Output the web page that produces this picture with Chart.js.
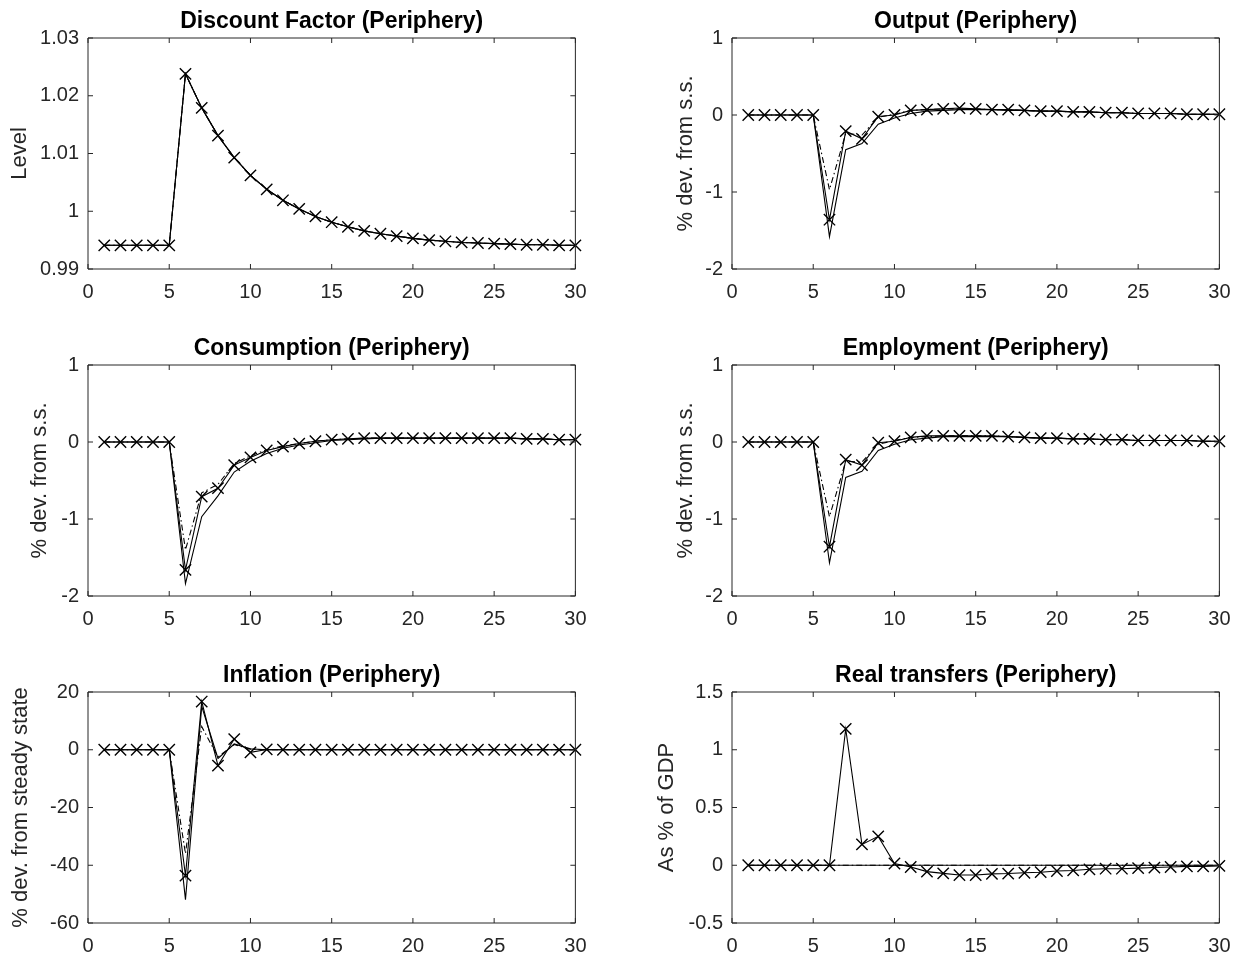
<!DOCTYPE html>
<html>
<head>
<meta charset="utf-8">
<title>Periphery impulse responses</title>
<script src="https://cdn.jsdelivr.net/npm/chart.js@4.4.1/dist/chart.umd.min.js"></script>
<style>
  body { margin: 0; background: #fff; }
  #figure { position: relative; width: 1246px; height: 960px; }
  #figure canvas { position: absolute; }
</style>
</head>
<body>
<div id="figure"></div>
<script>
// horizontal axis: quarters after the shock
const periods = [1, 2, 3, 4, 5, 6, 7, 8, 9, 10, 11, 12, 13, 14, 15, 16, 17, 18, 19, 20, 21, 22, 23, 24, 25, 26, 27, 28, 29, 30];
const xTicks = [0, 5, 10, 15, 20, 25, 30];

// Discount factor (all scenarios coincide)
const discountTicks = [0.99, 1, 1.01, 1.02, 1.03];
const discountPath = [0.9941, 0.9941, 0.9941, 0.9941, 0.9941, 1.0238, 1.0179, 1.0131, 1.0093, 1.0062, 1.0038, 1.0019, 1.0004, 0.9991, 0.9981, 0.9973, 0.9966, 0.9961, 0.9957, 0.9953, 0.9950, 0.9948, 0.9946, 0.9945, 0.9944, 0.9943, 0.9942, 0.9942, 0.9941, 0.9941];

// Output
const outputTicks = [-2, -1, 0, 1];
const outputMarked = [0, 0, 0, 0, 0, -1.36, -0.21, -0.31, -0.02, 0.00, 0.06, 0.07, 0.08, 0.09, 0.08, 0.07, 0.07, 0.06, 0.05, 0.05, 0.04, 0.04, 0.03, 0.03, 0.02, 0.02, 0.02, 0.01, 0.01, 0.01];
const outputSolid = [0, 0, 0, 0, 0, -1.58, -0.45, -0.37, -0.12, -0.04, 0.02, 0.05, 0.06, 0.07, 0.07, 0.07, 0.06, 0.06, 0.05, 0.05, 0.04, 0.04, 0.03, 0.03, 0.02, 0.02, 0.02, 0.01, 0.01, 0.01];
const outputDashDot = [0, 0, 0, 0, 0, -0.97, -0.24, -0.26, -0.03, 0.01, 0.06, 0.07, 0.08, 0.08, 0.08, 0.07, 0.07, 0.06, 0.05, 0.05, 0.04, 0.04, 0.03, 0.03, 0.02, 0.02, 0.02, 0.01, 0.01, 0.01];

// Consumption
const consTicks = [-2, -1, 0, 1];
const consMarked = [0, 0, 0, 0, 0, -1.66, -0.71, -0.60, -0.30, -0.20, -0.11, -0.06, -0.02, 0.01, 0.03, 0.04, 0.05, 0.05, 0.05, 0.05, 0.05, 0.05, 0.05, 0.05, 0.05, 0.05, 0.04, 0.04, 0.03, 0.03];
const consSolid = [0, 0, 0, 0, 0, -1.84, -0.97, -0.70, -0.39, -0.25, -0.15, -0.08, -0.04, -0.01, 0.02, 0.03, 0.04, 0.05, 0.05, 0.05, 0.05, 0.05, 0.05, 0.05, 0.05, 0.05, 0.04, 0.04, 0.03, 0.03];
const consDashDot = [0, 0, 0, 0, 0, -1.40, -0.66, -0.55, -0.28, -0.18, -0.10, -0.05, -0.02, 0.01, 0.03, 0.04, 0.05, 0.05, 0.05, 0.05, 0.05, 0.05, 0.05, 0.05, 0.05, 0.05, 0.04, 0.04, 0.03, 0.03];

// Employment
const emplTicks = [-2, -1, 0, 1];
const emplMarked = [0, 0, 0, 0, 0, -1.36, -0.23, -0.30, -0.01, 0.01, 0.06, 0.08, 0.08, 0.08, 0.08, 0.08, 0.07, 0.06, 0.05, 0.05, 0.04, 0.04, 0.03, 0.03, 0.02, 0.02, 0.02, 0.02, 0.01, 0.01];
const emplSolid = [0, 0, 0, 0, 0, -1.57, -0.46, -0.38, -0.11, -0.03, 0.03, 0.05, 0.07, 0.07, 0.07, 0.07, 0.07, 0.06, 0.05, 0.05, 0.04, 0.04, 0.03, 0.03, 0.02, 0.02, 0.02, 0.02, 0.01, 0.01];
const emplDashDot = [0, 0, 0, 0, 0, -0.97, -0.25, -0.26, -0.03, 0.02, 0.06, 0.07, 0.08, 0.08, 0.08, 0.08, 0.07, 0.06, 0.05, 0.05, 0.04, 0.04, 0.03, 0.03, 0.02, 0.02, 0.02, 0.02, 0.01, 0.01];

// Inflation
const inflTicks = [-60, -40, -20, 0, 20];
const inflMarked = [0, 0, 0, 0, 0, -43.6, 16.7, -5.5, 3.7, -0.9, 0.1, 0, 0, 0, 0, 0, 0, 0, 0, 0, 0, 0, 0, 0, 0, 0, 0, 0, 0, 0];
const inflSolid = [0, 0, 0, 0, 0, -51.9, 15.0, -3.0, 2.0, 0.3, 0, 0, 0, 0, 0, 0, 0, 0, 0, 0, 0, 0, 0, 0, 0, 0, 0, 0, 0, 0];
const inflDashDot = [0, 0, 0, 0, 0, -36.0, 8.0, -2.5, 1.8, 0.2, 0, 0, 0, 0, 0, 0, 0, 0, 0, 0, 0, 0, 0, 0, 0, 0, 0, 0, 0, 0];

// Real transfers
const transTicks = [-0.5, 0, 0.5, 1, 1.5];
const transMarked = [0, 0, 0, 0, 0, 0, 1.18, 0.18, 0.25, 0.015, -0.015, -0.055, -0.07, -0.085, -0.085, -0.075, -0.072, -0.065, -0.06, -0.05, -0.045, -0.035, -0.03, -0.03, -0.025, -0.02, -0.015, -0.01, -0.01, -0.005];
const transSolid = [0, 0, 0, 0, 0, 0, 0, 0, 0, 0, 0, 0, 0, 0, 0, 0, 0, 0, 0, 0, 0, 0, 0, 0, 0, 0, 0, 0, 0, 0];
const transDashDot = [0, 0, 0, 0, 0, 0, 0, 0, 0, 0, 0, 0, 0, 0, 0, 0, 0, 0, 0, 0, 0, 0, 0, 0, 0, 0, 0, 0, 0, 0];

const panels = [
  { title: 'Discount Factor (Periphery)', yLabel: 'Level', yTicks: discountTicks, marked: discountPath, solid: discountPath, dashDot: discountPath, col: 0, row: 0, labelX: 20 },
  { title: 'Output (Periphery)', yLabel: '% dev. from s.s.', yTicks: outputTicks, marked: outputMarked, solid: outputSolid, dashDot: outputDashDot, col: 1, row: 0, labelX: 42 },
  { title: 'Consumption (Periphery)', yLabel: '% dev. from s.s.', yTicks: consTicks, marked: consMarked, solid: consSolid, dashDot: consDashDot, col: 0, row: 1, labelX: 40 },
  { title: 'Employment (Periphery)', yLabel: '% dev. from s.s.', yTicks: emplTicks, marked: emplMarked, solid: emplSolid, dashDot: emplDashDot, col: 1, row: 1, labelX: 42 },
  { title: 'Inflation (Periphery)', yLabel: '% dev. from steady state', yTicks: inflTicks, marked: inflMarked, solid: inflSolid, dashDot: inflDashDot, col: 0, row: 2, labelX: 21 },
  { title: 'Real transfers (Periphery)', yLabel: 'As % of GDP', yTicks: transTicks, marked: transMarked, solid: transSolid, dashDot: transDashDot, col: 1, row: 2, labelX: 23 }
];

// figure geometry (plot boxes)
const colLeft = [88, 732];
const rowTop = [38, 364.5, 691.5];
const plotW = 490, plotH = 231;
const yAxisW = 88, titleH = 38, xAxisH = 35, padRight = 20;

const axisColor = '#262626';
Chart.defaults.font.family = "'Liberation Sans', Arial, Helvetica, sans-serif";
Chart.defaults.color = axisColor;

// MATLAB style box with inward ticks on all four sides
const boxPlugin = {
  id: 'boxPlugin',
  afterDatasetsDraw(chart) {
    const { ctx, chartArea: a, scales } = chart;
    const len = 5;
    ctx.save();
    ctx.strokeStyle = axisColor;
    ctx.lineWidth = 1;
    ctx.beginPath();
    ctx.rect(a.left, a.top, a.right - a.left, a.bottom - a.top);
    scales.x.ticks.forEach(t => {
      const px = scales.x.getPixelForValue(t.value);
      ctx.moveTo(px, a.bottom); ctx.lineTo(px, a.bottom - len);
      ctx.moveTo(px, a.top); ctx.lineTo(px, a.top + len);
    });
    scales.y.ticks.forEach(t => {
      const py = scales.y.getPixelForValue(t.value);
      ctx.moveTo(a.left, py); ctx.lineTo(a.left + len, py);
      ctx.moveTo(a.right, py); ctx.lineTo(a.right - len, py);
    });
    ctx.stroke();
    ctx.restore();
  }
};

const fmt = v => String(Number(v.toFixed(4)));

const figure = document.getElementById('figure');

panels.forEach(p => {
  const canvas = document.createElement('canvas');
  canvas.width = yAxisW + plotW + padRight;
  canvas.height = titleH + plotH + xAxisH;
  canvas.style.left = (colLeft[p.col] - yAxisW) + 'px';
  canvas.style.top = (rowTop[p.row] - titleH) + 'px';
  figure.appendChild(canvas);

  const yMin = p.yTicks[0];
  const yMax = p.yTicks[p.yTicks.length - 1];

  new Chart(canvas, {
    type: 'line',
    data: {
      labels: periods,
      datasets: [
        {
          data: p.marked,
          borderColor: '#000',
          borderWidth: 1.1,
          pointStyle: 'crossRot',
          pointRadius: 8,
          pointBorderWidth: 1.4,
          pointBorderColor: '#000',
          pointBackgroundColor: '#000',
          clip: 10
        },
        {
          data: p.solid,
          borderColor: '#000',
          borderWidth: 1.1,
          pointRadius: 0
        },
        {
          data: p.dashDot,
          borderColor: '#000',
          borderWidth: 1.1,
          borderDash: [6, 3, 1.5, 3],
          pointRadius: 0
        }
      ]
    },
    options: {
      responsive: false,
      animation: false,
      events: [],
      layout: { padding: { left: 0, right: padRight, top: 0, bottom: 0 } },
      elements: { line: { tension: 0 } },
      plugins: {
        legend: { display: false },
        tooltip: { enabled: false },
        title: {
          display: true,
          text: p.title,
          fullSize: false,
          color: '#000',
          font: { size: 23, weight: 'bold' },
          padding: { top: 7.7, bottom: 2.7 }
        }
      },
      scales: {
        x: {
          type: 'linear',
          min: 0,
          max: 30,
          afterBuildTicks: s => { s.ticks = xTicks.map(v => ({ value: v })); },
          afterFit: s => { s.height = xAxisH; },
          grid: { display: false, drawTicks: false },
          border: { display: false },
          ticks: { font: { size: 20 }, padding: 11.5, maxRotation: 0, callback: fmt }
        },
        y: {
          min: yMin,
          max: yMax,
          afterBuildTicks: s => { s.ticks = p.yTicks.map(v => ({ value: v })); },
          afterFit: s => { s.width = yAxisW; },
          grid: { display: false, drawTicks: false },
          border: { display: false },
          ticks: { font: { size: 20 }, padding: 9, callback: fmt },
          title: {
            display: true,
            text: p.yLabel,
            font: { size: 22 },
            padding: { top: p.labelX - 13.2, bottom: 0 }
          }
        }
      }
    },
    plugins: [boxPlugin]
  });
});
</script>
</body>
</html>
